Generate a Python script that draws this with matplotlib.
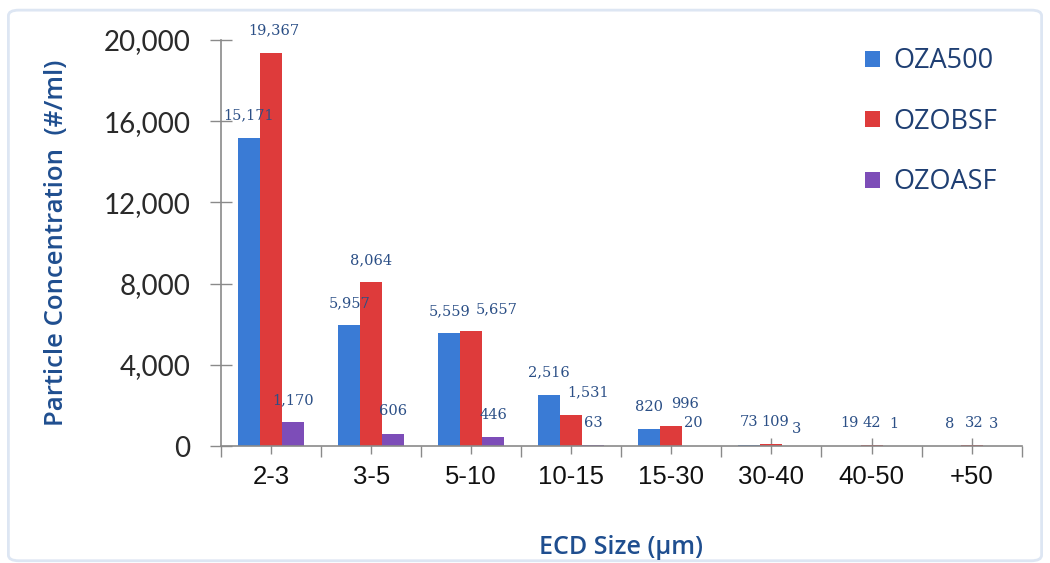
import matplotlib
matplotlib.use("Agg")
import matplotlib.pyplot as plt
import numpy as np
from matplotlib.patches import FancyBboxPatch
from matplotlib.ticker import FuncFormatter, FixedLocator

categories = ["2-3", "3-5", "5-10", "10-15", "15-30", "30-40", "40-50", "+50"]
series_names = ["OZA500", "OZOBSF", "OZOASF"]
oza500 = [15171, 5957, 5559, 2516, 820, 73, 19, 8]
ozobsf = [19367, 8064, 5657, 1531, 996, 109, 42, 32]
ozoasf = [1170, 606, 446, 63, 20, 3, 1, 3]
yticks = [0, 4000, 8000, 12000, 16000, 20000]

colors = ["#3a7bd5", "#de3b3b", "#7d4db8"]
label_color = "#2b4f86"
axis_title_color = "#1f4e8f"
# label nudges (points) for the OZOBSF labels, as placed in the original chart
obsf_dx = [2, 0, 18, 12, 10, 3, 0, 2]

fig = plt.figure(figsize=(10.5, 5.63), dpi=100)
frame = FancyBboxPatch((0.008, 0.004), 0.984, 0.978, boxstyle="round,pad=0,rounding_size=0.01",
                       transform=fig.transFigure, facecolor="white", edgecolor="#dde6f3",
                       linewidth=2, zorder=-10)
fig.patches.append(frame)

ax = fig.add_axes([0.2105, 0.2078, 0.7625, 0.7212])
ax.set_facecolor("none")

x = np.arange(len(categories))
w = 0.22
all_series = [oza500, ozobsf, ozoasf]
for i, (vals, name, c) in enumerate(zip(all_series, series_names, colors)):
    pos = x + (i - 1) * w
    bars = ax.bar(pos, vals, width=w, color=c, label=name, zorder=2)
    for j, (b, v) in enumerate(zip(bars, vals)):
        dx = obsf_dx[j] if i == 1 else 0
        dy = 12 if (i == 2 and j == 5) else 16
        ax.annotate(f"{v:,}", (b.get_x() + b.get_width() / 2, v), xytext=(dx + (2 if (i == 2 and j == 5) else 0), dy),
                    textcoords="offset points", ha="center", va="center",
                    fontsize=10.5, color=label_color, family="DejaVu Serif")

ax.set_xlim(-0.5, len(categories) - 0.5)
ax.set_ylim(0, 20000)
ax.yaxis.set_major_locator(FixedLocator(yticks))
ax.yaxis.set_major_formatter(FuncFormatter(lambda v, p: f"{int(v):,}"))
ax.set_xticks(x)
ax.set_xticklabels(categories, fontsize=18.5, family="Liberation Sans", color="#111111")
ax.set_xticks(np.arange(len(categories) + 1) - 0.5, minor=True)
ax.tick_params(axis="x", which="major", direction="inout", length=12, width=1, color="#8a8a8a", pad=8)
ax.tick_params(axis="x", which="minor", direction="out", length=8, width=1, color="#8a8a8a")
ax.tick_params(axis="y", which="major", direction="inout", length=16, width=1, color="#8a8a8a",
               labelsize=20, labelcolor="#2a2a2a", pad=14)
for t in ax.get_yticklabels():
    t.set_family("Lato")

for s in ["top", "right"]:
    ax.spines[s].set_visible(False)
for s in ["left", "bottom"]:
    ax.spines[s].set_color("#8a8a8a")
    ax.spines[s].set_linewidth(1.2)

ax.set_ylabel("Particle Concentration  (#/ml)", fontsize=18.5, color=axis_title_color,
              family="Open Sans", fontweight="semibold", labelpad=25)
ax.set_xlabel("ECD Size (µm)", fontsize=18, color=axis_title_color,
              family="Open Sans", fontweight="semibold", labelpad=33)

leg = ax.legend(loc="upper right", bbox_to_anchor=(1.0, 1.042), frameon=False,
                prop={"family": "Open Sans", "size": 19.5}, labelcolor="#1f3f73",
                handlelength=0.55, handleheight=0.55, handletextpad=0.5, labelspacing=1.2)

fig.savefig("out.png", dpi=100)
